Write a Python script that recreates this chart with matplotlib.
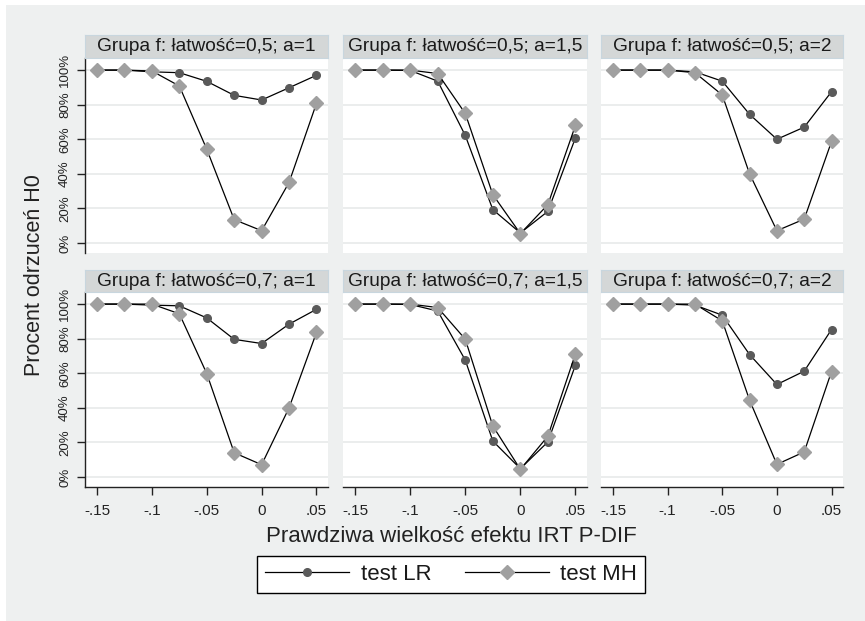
import matplotlib
matplotlib.use("Agg")
import matplotlib.pyplot as plt
from matplotlib.lines import Line2D
from matplotlib.patches import Rectangle

plt.rcParams['font.family'] = ['Liberation Sans', 'DejaVu Sans']

# ---- data ----
x_vals = [-0.15, -0.125, -0.1, -0.075, -0.05, -0.025, 0.0, 0.025, 0.05]
panel_titles = [
    "Grupa f: łatwość=0,5; a=1", "Grupa f: łatwość=0,5; a=1,5", "Grupa f: łatwość=0,5; a=2",
    "Grupa f: łatwość=0,7; a=1", "Grupa f: łatwość=0,7; a=1,5", "Grupa f: łatwość=0,7; a=2",
]
lr_05_a1 = [100, 100, 99.0, 98.5, 93.5, 85.4, 82.7, 89.8, 97.0]
mh_05_a1 = [100, 100, 99.5, 90.8, 54.2, 13.5, 7.1, 35.0, 80.8]
lr_05_a15 = [100, 100, 99.8, 93.6, 62.2, 19.3, 5.8, 18.3, 60.8]
mh_05_a15 = [100, 100, 100, 98.0, 74.9, 28.0, 5.4, 22.2, 68.0]
lr_05_a2 = [100, 100, 100, 99.0, 93.6, 74.4, 60.0, 67.0, 87.5]
mh_05_a2 = [100, 100, 100, 98.5, 85.6, 40.0, 7.1, 13.8, 58.7]
lr_07_a1 = [100, 100, 99.4, 99.0, 92.0, 79.6, 77.2, 88.4, 97.0]
mh_07_a1 = [100, 100, 100, 94.4, 59.8, 14.0, 7.1, 40.0, 83.6]
lr_07_a15 = [100, 100, 99.8, 96.0, 67.6, 20.8, 4.8, 20.3, 64.7]
mh_07_a15 = [100, 100, 100, 98.0, 79.7, 29.5, 4.4, 23.6, 71.2]
lr_07_a2 = [100, 100, 100, 99.4, 93.6, 70.8, 53.5, 61.2, 85.3]
mh_07_a2 = [100, 100, 100, 100, 90.3, 44.4, 7.3, 14.5, 61.0]
lr_series = [lr_05_a1, lr_05_a15, lr_05_a2, lr_07_a1, lr_07_a15, lr_07_a2]
mh_series = [mh_05_a1, mh_05_a15, mh_05_a2, mh_07_a1, mh_07_a15, mh_07_a2]

x_ticks = [-0.15, -0.1, -0.05, 0.0, 0.05]
x_tick_labels = ["-.15", "-.1", "-.05", "0", ".05"]
y_ticks = [0, 20, 40, 60, 80, 100]
y_tick_labels = ["0%", "20%", "40%", "60%", "80%", "100%"]
legend_labels = ["test LR", "test MH"]
x_label = "Prawdziwa wielkość efektu IRT P-DIF"
y_label = "Procent odrzuceń H0"

# ---- style ----
W, H = 865, 621
BG = '#eef0f0'
STRIP = '#d4d7d7'
LR_C = '#5a5a5a'
MH_C = '#a0a0a0'
GRID = '#e6e8e8'

fig = plt.figure(figsize=(W / 100, H / 100), dpi=100)
fig.patch.set_facecolor('white')
fig.patches.append(Rectangle((6 / W, 0), 1, 1 - 5 / H, transform=fig.transFigure,
                             facecolor=BG, edgecolor='none', zorder=-10))


def rect(x0, y0, x1, y1):
    return [x0 / W, 1 - y1 / H, (x1 - x0) / W, (y1 - y0) / H]


cols = [(85, 328), (343, 587), (601, 843)]
plot_rows = [(58, 253), (292, 487)]
strip_rows = [(35, 58), (270, 292)]

for i in range(6):
    r, c = divmod(i, 3)
    x0, x1 = cols[c]
    ax = fig.add_axes(rect(x0, plot_rows[r][0], x1, plot_rows[r][1]))
    ax.set_facecolor('white')
    ax.set_xlim(-0.161, 0.0605)
    ax.set_ylim(-5.8, 107)
    for yt in y_ticks:
        ax.axhline(yt, color=GRID, lw=1.1, zorder=0)
    ax.plot(x_vals, lr_series[i], color='black', lw=0.9, marker='o', ms=5.5,
            mfc=LR_C, mec=LR_C, zorder=3)
    ax.plot(x_vals, mh_series[i], color='black', lw=0.9, marker='D', ms=7.2,
            mfc=MH_C, mec=MH_C, zorder=4)
    for s in ['top', 'right']:
        ax.spines[s].set_visible(False)
    ax.spines['left'].set_visible(c == 0)
    ax.spines['bottom'].set_visible(r == 1)
    for s in ['left', 'bottom']:
        ax.spines[s].set_color('#222222')
        ax.spines[s].set_linewidth(1.0)
    ax.set_yticks(y_ticks)
    ax.set_xticks(x_ticks)
    if c == 0:
        ax.set_yticklabels(y_tick_labels, rotation=90, va='center', fontsize=9.5,
                           color='#222222')
        ax.tick_params(axis='y', length=6, width=1, pad=4, color='#222222')
    else:
        ax.tick_params(axis='y', length=0, labelleft=False)
    if r == 1:
        ax.set_xticklabels(x_tick_labels, fontsize=11, color='#222222')
        ax.tick_params(axis='x', length=6, width=1, pad=6, color='#222222')
    else:
        ax.tick_params(axis='x', length=0, labelbottom=False)

    sax = fig.add_axes(rect(x0, strip_rows[r][0], x1, strip_rows[r][1]))
    sax.set_facecolor(STRIP)
    sax.set_xticks([])
    sax.set_yticks([])
    for s in sax.spines.values():
        s.set_color('#c8d6de')
        s.set_linewidth(0.8)
    sax.text(0.5, 0.5, panel_titles[i], ha='center', va='center',
             fontsize=13.8, color='#1a1a1a', transform=sax.transAxes)

fig.text(451 / W, 1 - 536 / H, x_label, ha='center', va='center', fontsize=16,
         color='#222222')
fig.text(35 / W, 1 - 275 / H, y_label, ha='center', va='center', rotation=90,
         fontsize=15.5, color='#222222')

handles = [
    Line2D([], [], color='black', lw=0.9, marker='o', ms=5.5, mfc=LR_C, mec=LR_C),
    Line2D([], [], color='black', lw=0.9, marker='D', ms=7.2, mfc=MH_C, mec=MH_C),
]
leg = fig.legend(handles, legend_labels, loc='center', ncol=2,
                 bbox_to_anchor=(451 / W, 1 - 574.5 / H), fontsize=16,
                 frameon=True, fancybox=False, edgecolor='black',
                 handlelength=3.8, handletextpad=0.5, columnspacing=1.5,
                 borderpad=0.35, framealpha=1)
leg.get_frame().set_linewidth(1.0)
for t in leg.get_texts():
    t.set_color('#1a1a1a')

fig.savefig('out.png', dpi=100, facecolor=fig.get_facecolor())
